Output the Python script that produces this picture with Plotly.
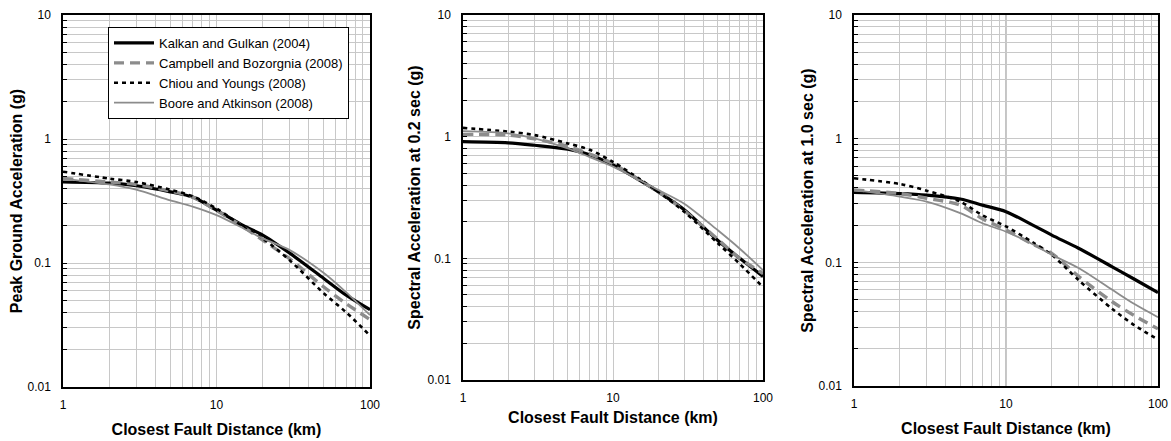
import plotly.graph_objects as go

# distances (km)
dist = [1, 2, 3, 5, 7, 10, 15, 20, 30, 50, 70, 100]

# Panel 1: PGA (g)
pga_kalkan   = [0.45, 0.44, 0.42, 0.375, 0.34, 0.267, 0.20, 0.168, 0.120, 0.075, 0.055, 0.042]
pga_campbell = [0.48, 0.45, 0.43, 0.38, 0.34, 0.265, 0.195, 0.153, 0.108, 0.064, 0.047, 0.035]
pga_chiou    = [0.545, 0.48, 0.45, 0.39, 0.345, 0.275, 0.195, 0.158, 0.105, 0.057, 0.040, 0.026]
pga_boore    = [0.48, 0.43, 0.39, 0.32, 0.285, 0.243, 0.19, 0.158, 0.127, 0.083, 0.058, 0.038]

# Panel 2: Sa(0.2 s) (g)
sa02_kalkan   = [0.91, 0.89, 0.85, 0.79, 0.71, 0.585, 0.44, 0.353, 0.25, 0.14, 0.10, 0.071]
sa02_campbell = [1.045, 1.03, 0.96, 0.83, 0.72, 0.60, 0.44, 0.353, 0.245, 0.143, 0.10, 0.075]
sa02_chiou    = [1.18, 1.10, 1.03, 0.88, 0.78, 0.62, 0.45, 0.353, 0.24, 0.133, 0.09, 0.058]
sa02_boore    = [1.11, 1.065, 0.97, 0.80, 0.68, 0.567, 0.44, 0.365, 0.28, 0.17, 0.12, 0.08]

# Panel 3: Sa(1.0 s) (g)
sa10_kalkan   = [0.368, 0.36, 0.35, 0.325, 0.29, 0.257, 0.20, 0.166, 0.13, 0.092, 0.073, 0.057]
sa10_campbell = [0.385, 0.36, 0.33, 0.29, 0.225, 0.183, 0.14, 0.118, 0.077, 0.048, 0.037, 0.029]
sa10_chiou    = [0.478, 0.43, 0.38, 0.31, 0.24, 0.195, 0.145, 0.115, 0.072, 0.042, 0.031, 0.0237]
sa10_boore    = [0.385, 0.34, 0.31, 0.25, 0.207, 0.177, 0.14, 0.115, 0.09, 0.060, 0.046, 0.036]

series_names = ["Kalkan and Gulkan (2004)", "Campbell and Bozorgnia (2008)",
                "Chiou and Youngs (2008)", "Boore and Atkinson (2008)"]

y_titles = ["Peak Ground Acceleration (g)", "Spectral Acceleration at 0.2 sec (g)",
            "Spectral Acceleration at 1.0 sec (g)"]
x_title = "Closest Fault Distance (km)"

x_tick_labels = {1: "1", 10: "10", 100: "100"}
y_tick_labels = {0.01: "0.01", 0.1: "0.1", 1: "1", 10: "10"}

W, H = 1171, 441
# plot area pixel boxes (left, right, top, bottom)
boxes = [(63, 370, 15, 387), (463, 763, 15, 380), (854, 1158, 15, 386)]
x_title_standoff = [13, 8, 13]
y_title_standoff = [1, 3, 1]

styles = [
    dict(color="black", width=3.2, dash="solid"),
    dict(color="#8c8c8c", width=3.4, dash="10px,6px"),
    dict(color="black", width=2.6, dash="4px,4px"),
    dict(color="#8c8c8c", width=1.8, dash="solid"),
]

panels = [
    [pga_kalkan, pga_campbell, pga_chiou, pga_boore],
    [sa02_kalkan, sa02_campbell, sa02_chiou, sa02_boore],
    [sa10_kalkan, sa10_campbell, sa10_chiou, sa10_boore],
]

font_family = "Liberation Sans, Arial, sans-serif"

fig = go.Figure()

def decade_vals(lo, hi):
    vals = []
    d = lo
    while d < hi:
        for m in range(1, 10):
            vals.append(round(m * d, 6))
        d *= 10
    vals.append(hi)
    return vals

xv = decade_vals(1, 100)
yv = decade_vals(0.01, 10)

layout = dict(width=W, height=H, margin=dict(l=0, r=0, t=0, b=0, autoexpand=False),
              paper_bgcolor="white", plot_bgcolor="white",
              font=dict(family=font_family, size=12, color="black"))

for i, (series, box) in enumerate(zip(panels, boxes)):
    xa = "x" if i == 0 else f"x{i+1}"
    ya = "y" if i == 0 else f"y{i+1}"
    for j, vals in enumerate(series):
        fig.add_trace(go.Scatter(x=dist, y=vals, mode="lines", name=series_names[j],
                                 line=dict(shape="spline", smoothing=0.8, **styles[j]),
                                 xaxis=xa, yaxis=ya, showlegend=(i == 0)))
    l, r, t, b = box
    xkey = "xaxis" if i == 0 else f"xaxis{i+1}"
    ykey = "yaxis" if i == 0 else f"yaxis{i+1}"
    layout[xkey] = dict(
        domain=[l / W, r / W], anchor=ya, type="log", range=[0, 2], automargin=False,
        tickvals=xv, ticktext=[x_tick_labels.get(v, "") for v in xv],
        showgrid=True, gridcolor="#c8c8c8", gridwidth=1,
        showline=True, linecolor="black", linewidth=1.5, mirror=True,
        ticks="", ticklabelstandoff=6,
        tickfont=dict(size=12, color="black", family=font_family),
        title=dict(text=f"<b>{x_title}</b>", font=dict(size=16, family=font_family),
                   standoff=x_title_standoff[i]),
        zeroline=False,
    )
    layout[ykey] = dict(
        domain=[1 - b / H, 1 - t / H], anchor=xa, type="log", range=[-2, 1], automargin=False,
        tickvals=yv, ticktext=[y_tick_labels.get(v, "") for v in yv],
        showgrid=True, gridcolor="#c8c8c8", gridwidth=1,
        showline=True, linecolor="black", linewidth=1.5, mirror=True,
        ticks="inside", ticklen=4, tickcolor="black", ticklabelstandoff=8,
        tickfont=dict(size=12, color="black", family=font_family),
        title=dict(text=f"<b>{y_titles[i]}</b>", font=dict(size=16, family=font_family),
                   standoff=y_title_standoff[i]),
        zeroline=False,
    )

layout["legend"] = dict(
    x=108 / W, y=1 - 27 / H, xanchor="left", yanchor="top",
    bgcolor="white", bordercolor="black", borderwidth=1,
    font=dict(size=13, family=font_family, color="black"),
    tracegroupgap=0, itemwidth=40,
)

fig.update_layout(**layout)
# emphasize the 10 km gridline on the third panel
fig.add_shape(type="line", xref="x3", yref="y3 domain", x0=10, x1=10, y0=0, y1=1,
              line=dict(color="#8a8a8a", width=1), layer="below")

fig.write_html("out.html", config={"displayModeBar": False},
               post_script="document.body.style.margin='0px';document.body.style.overflow='hidden';")
